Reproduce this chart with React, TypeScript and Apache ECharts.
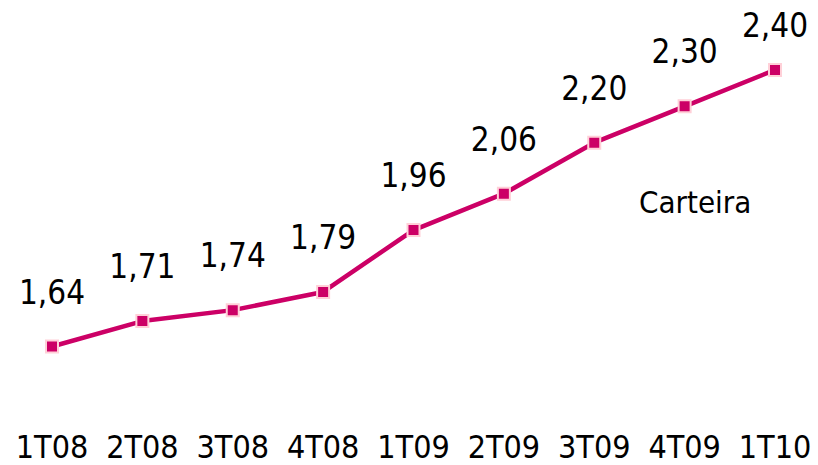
import React, { useEffect, useRef } from "react";
import * as echarts from "echarts";

const categories = ["1T08", "2T08", "3T08", "4T08", "1T09", "2T09", "3T09", "4T09", "1T10"];
const values = [1.64, 1.71, 1.74, 1.79, 1.96, 2.06, 2.2, 2.3, 2.4];
const seriesName = "Carteira";

const FONT = "'DejaVu Sans Condensed', 'DejaVu Sans', sans-serif";
const MAGENTA = "#CC0066";

export default function App() {
  const ref = useRef<HTMLDivElement>(null);
  useEffect(() => {
    if (!ref.current) return;
    const chart = echarts.init(ref.current, null, { renderer: "svg" });
    chart.setOption({
      animation: false,
      backgroundColor: "#ffffff",
      grid: { left: 52, right: 43, top: 33.5, bottom: 67.5, containLabel: false },
      xAxis: {
        type: "category",
        data: categories,
        boundaryGap: false,
        axisLine: { show: false },
        axisTick: { show: false },
        splitLine: { show: false },
        axisLabel: {
          margin: 33,
          fontSize: 32,
          fontFamily: FONT,
          color: "#000",
          interval: 0,
        },
      },
      yAxis: {
        type: "value",
        min: 1.5,
        max: 2.5,
        show: false,
        splitLine: { show: false },
      },
      graphic: [
        {
          type: "text",
          left: 639,
          top: 186,
          style: { text: seriesName, font: `31px ${FONT}`, fill: "#000" },
        },
      ],
      series: [
        {
          name: seriesName,
          type: "line",
          data: values.map((v, i) =>
            i === values.length - 1 ? { value: v, label: { distance: 21 } } : v
          ),
          lineStyle: { color: MAGENTA, width: 4.5 },
          symbol: "rect",
          symbolSize: 12,
          itemStyle: { color: MAGENTA, borderColor: "#FFD0D8", borderWidth: 2 },
          label: {
            show: true,
            position: "top",
            distance: 31,
            fontSize: 33,
            fontFamily: FONT,
            color: "#000",
            formatter: (p: any) => p.value.toFixed(2).replace(".", ","),
          },
        },
      ],
    });
    return () => chart.dispose();
  }, []);
  return <div ref={ref} style={{ width: 818, height: 465, position: "absolute", left: 0, top: 0 }} />;
}
